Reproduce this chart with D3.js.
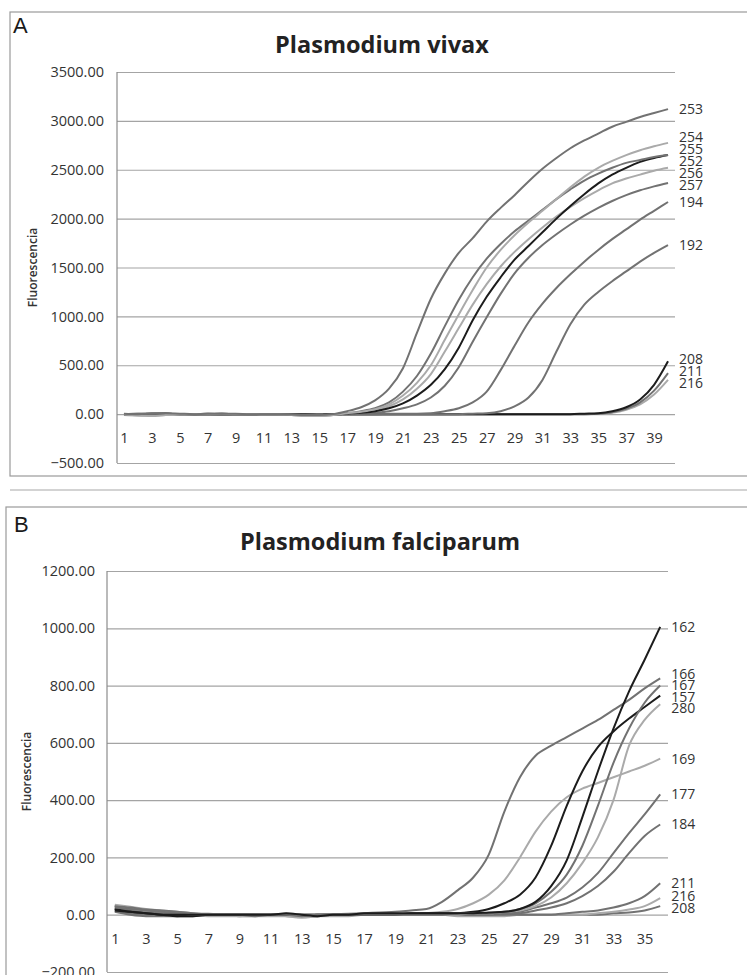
<!DOCTYPE html>
<html>
<head>
<meta charset="utf-8">
<script src="https://cdn.jsdelivr.net/npm/d3@7"></script>
<style>
  body { margin: 0; background: #fff; }
  svg { display: block; }
  text { font-family: "Open Sans", "Noto Sans", sans-serif; }
</style>
</head>
<body>
<svg id="chart" width="747" height="975"></svg>
<script>
// ---- Data : panel A (P. vivax), cycles 1..40 ----
const cyclesA = d3.range(1, 41);
const yTicksA = [-500, 0, 500, 1000, 1500, 2000, 2500, 3000, 3500];
const namesA = ["253", "254", "255", "252", "256", "257", "194", "192", "208", "211", "216"];
const toneA  = ["gray", "light", "gray", "black", "light", "gray", "gray", "gray", "black", "gray", "light"];

const vivax253 = [5,0,5,10,5,0,5,5,5,0,0,0,-5,-10,-10,0,30,70,140,260,470,830,1180,1440,1650,1800,1970,2110,2240,2380,2510,2620,2720,2800,2870,2940,2990,3040,3080,3120];
const vivax254 = [-5,-15,-20,-10,-5,0,0,5,0,0,-5,-5,-10,-20,-20,-10,10,25,50,100,190,320,500,760,1020,1270,1500,1680,1830,1960,2080,2200,2320,2430,2520,2590,2650,2700,2740,2775];
const vivax255 = [0,5,5,5,0,0,0,5,0,0,0,0,-5,-10,-10,-5,10,30,60,120,230,390,620,900,1170,1400,1590,1740,1870,1980,2090,2200,2300,2390,2460,2520,2570,2600,2630,2650];
const vivax252 = [0,0,5,5,0,0,0,0,0,0,0,0,-5,-5,-10,-5,5,15,30,60,110,190,300,460,680,960,1200,1400,1580,1720,1860,2000,2130,2250,2360,2450,2520,2580,2620,2650];
const vivax256 = [-5,-10,-15,-10,-5,0,0,0,0,0,-5,-5,-10,-15,-20,-10,5,20,40,80,150,260,410,640,880,1120,1330,1510,1660,1790,1910,2020,2120,2210,2290,2360,2410,2450,2490,2520];
const vivax257 = [0,0,5,5,0,0,5,5,0,0,0,0,-5,-5,-10,-5,0,5,15,30,60,100,170,290,480,740,990,1230,1440,1600,1730,1840,1940,2030,2110,2180,2240,2290,2330,2365];
const vivax194 = [0,5,5,5,0,0,5,0,0,0,0,0,-5,-10,-10,-5,0,0,0,5,5,5,10,30,60,120,230,450,700,940,1130,1290,1430,1560,1680,1790,1890,1990,2080,2170];
const vivax192 = [0,0,5,5,0,0,0,5,0,0,0,0,-5,-5,-10,-5,0,0,0,0,0,0,0,0,0,5,10,30,80,170,350,640,920,1120,1250,1360,1460,1560,1650,1730];
const vivax208 = [0,0,0,5,0,0,0,0,0,0,0,0,0,-5,-5,0,0,0,0,0,0,0,0,0,0,0,0,0,0,0,0,0,0,5,10,30,70,150,300,540];
const vivax211 = [-5,-5,-5,0,0,0,0,0,0,0,0,0,-5,-5,-5,0,0,0,0,0,0,0,0,0,0,0,0,0,0,0,0,0,0,0,5,20,55,120,240,420];
const vivax216 = [-10,-15,-10,-5,0,0,0,0,0,0,0,-5,-10,-15,-15,-5,0,0,0,0,0,0,0,0,0,0,0,0,0,0,0,0,0,0,5,15,45,100,200,350];
const valuesA = [vivax253, vivax254, vivax255, vivax252, vivax256, vivax257, vivax194, vivax192, vivax208, vivax211, vivax216];

// ---- Data : panel B (P. falciparum), cycles 1..36 ----
const cyclesB = d3.range(1, 37);
const yTicksB = [-200, 0, 200, 400, 600, 800, 1000, 1200];
const namesB = ["162", "166", "167", "157", "280", "169", "177", "184", "211", "216", "208"];
const toneB  = ["black", "gray", "gray", "black", "light", "light", "gray", "gray", "gray", "light", "gray"];

const falci162 = [15,10,5,0,0,0,0,0,0,0,0,5,0,-5,0,0,5,5,5,5,5,5,5,5,8,10,20,45,100,190,340,500,650,780,890,1005];
const falci166 = [30,25,18,15,10,5,3,2,2,0,0,3,0,0,2,3,5,8,10,15,20,45,85,130,210,360,480,555,590,620,650,680,715,750,790,825];
const falci167 = [25,20,15,10,5,0,0,0,0,-5,0,0,-5,0,0,0,0,0,0,0,0,0,5,5,5,10,20,40,80,140,240,380,530,650,740,800];
const falci157 = [20,10,5,0,-5,-5,0,0,0,0,0,0,0,0,0,0,0,0,0,5,5,5,5,10,20,40,70,130,240,380,500,585,640,685,725,765];
const falci280 = [35,28,20,15,10,5,0,0,-5,-5,0,-5,-10,-5,0,0,0,0,0,0,0,0,0,5,5,10,15,30,60,110,180,270,400,590,680,735];
const falci169 = [30,22,15,12,8,5,0,0,-5,0,0,0,-5,0,0,0,0,0,0,0,5,10,20,40,70,120,200,290,360,410,440,460,480,500,520,545];
const falci177 = [25,15,10,5,0,0,0,0,0,0,0,0,-5,0,0,0,0,0,0,0,0,0,0,0,5,5,10,25,40,60,95,145,215,285,350,420];
const falci184 = [20,10,5,5,0,0,0,0,0,0,0,0,0,0,0,0,0,0,0,0,0,0,0,0,0,5,5,15,25,40,65,100,150,215,275,315];
const falci211 = [15,5,0,0,-5,-5,0,0,0,0,0,0,-5,-5,0,0,0,0,0,0,0,0,0,0,0,0,0,0,0,5,10,15,25,40,65,110];
const falci216 = [30,20,15,10,5,0,-5,-5,-5,-5,-5,-5,-10,-5,-5,-5,0,0,0,0,0,0,-5,-5,-5,-5,0,0,0,0,0,5,10,18,30,58];
const falci208 = [10,0,-5,-5,-5,0,0,0,0,0,0,0,-5,-5,0,0,0,0,0,0,0,0,0,0,0,0,0,0,0,0,0,0,5,8,15,30];
const valuesB = [falci162, falci166, falci167, falci157, falci280, falci169, falci177, falci184, falci211, falci216, falci208];

const toneColor = { black: "#1c1c1c", gray: "#727272", light: "#aaaaaa" };

const svg = d3.select("#chart");

/**
 * Pushes apart labels that sit closer than gap pixels
 */
function spreadLabels(items, gap) {
    items.sort((a, b) => a.y - b.y);
    for (let it = 0; it < 300; it++) {
        let moved = false;
        for (let i = 1; i < items.length; i++) {
            const d = items[i].y - items[i - 1].y;
            if (d < gap - 0.01) {
                const s = (gap - d) / 2;
                items[i].y += s;
                items[i - 1].y -= s;
                moved = true;
            }
        }
        if (!moved) break;
    }
}

/**
 * Draws one amplification panel
 */
function drawPanel(p) {
    // Frame of the panel
    svg.append("rect")
        .attr("x", p.box[0]).attr("y", p.box[1])
        .attr("width", p.box[2]).attr("height", p.box[3])
        .attr("fill", "none").attr("stroke", "#9a9a9a").attr("stroke-width", 1.2);

    svg.append("text")
        .attr("x", p.letterX).attr("y", p.letterY)
        .style("font-family", "'Liberation Sans', Arial, sans-serif")
        .style("font-size", "22px").attr("fill", "#1a1a1a")
        .text(p.letter);

    svg.append("text")
        .attr("x", p.titleX).attr("y", p.titleY)
        .attr("text-anchor", "middle")
        .style("font-size", "23.5px").style("font-weight", 700).attr("fill", "#222")
        .text(p.title);

    const x = d3.scalePoint().domain(p.cycles).range([p.left, p.right]).padding(0.5);
    const y = d3.scaleLinear().domain([p.yTicks[0], p.yTicks[p.yTicks.length - 1]]).range([p.bottom, p.top]);

    // Horizontal gridlines + value labels
    const yAxis = svg.append("g")
        .attr("transform", `translate(${p.left},0)`)
        .call(d3.axisLeft(y).tickValues(p.yTicks).tickFormat(d3.format(".2f"))
            .tickSizeInner(-(p.right - p.left)).tickSizeOuter(0).tickPadding(p.tickPad));
    yAxis.select(".domain").remove();
    yAxis.selectAll("line").attr("stroke", "#a4a4a4").attr("stroke-width", 1.2);
    yAxis.selectAll("text").attr("fill", "#333").style("font-size", "14.5px");

    // Vertical axis line
    svg.append("line")
        .attr("x1", p.left).attr("x2", p.left)
        .attr("y1", p.top).attr("y2", p.bottom)
        .attr("stroke", "#8c8c8c").attr("stroke-width", 1.2);

    // Cycle labels
    const xAxis = svg.append("g")
        .attr("transform", `translate(0,${y(0)})`)
        .call(d3.axisBottom(x).tickValues(p.cycles.filter(c => c % 2 === 1)).tickSize(0).tickPadding(19));
    xAxis.select(".domain").remove();
    xAxis.selectAll("text").attr("fill", "#333").style("font-size", "14.5px");

    svg.append("text")
        .attr("transform", `translate(${p.yLabelX},${(p.top + p.bottom) / 2}) rotate(-90)`)
        .attr("text-anchor", "middle")
        .style("font-size", "12px").style("font-weight", 600).attr("fill", "#333")
        .text("Fluorescencia");

    // Curves
    const line = d3.line()
        .x((d, i) => x(p.cycles[i]))
        .y(d => y(d))
        .curve(d3.curveMonotoneX);

    const order = d3.range(p.values.length).reverse();
    order.forEach(i => {
        svg.append("path")
            .datum(p.values[i])
            .attr("d", line)
            .attr("fill", "none")
            .attr("stroke", toneColor[p.tones[i]])
            .attr("stroke-width", 2)
            .attr("stroke-linejoin", "round");
    });

    // End labels
    const last = p.cycles[p.cycles.length - 1];
    const labels = p.names.map((n, i) => ({ name: n, y: y(p.values[i][p.values[i].length - 1]) }));
    spreadLabels(labels, p.labelGap);
    svg.append("g").selectAll("text")
        .data(labels)
        .enter().append("text")
        .attr("x", x(last) + 11)
        .attr("y", d => d.y)
        .attr("dy", "0.35em")
        .style("font-size", "14px").attr("fill", "#333")
        .text(d => d.name);
}

drawPanel({
    box: [10, 12, 760, 464], letter: "A", letterX: 13, letterY: 33,
    title: "Plasmodium vivax", titleX: 382, titleY: 53,
    left: 117, right: 675, top: 72, bottom: 463, tickPad: 13, yLabelX: 37,
    cycles: cyclesA, yTicks: yTicksA, names: namesA, tones: toneA, values: valuesA, labelGap: 12
});

svg.append("line")
    .attr("x1", 10).attr("x2", 747).attr("y1", 490).attr("y2", 490)
    .attr("stroke", "#a8a8a8").attr("stroke-width", 1.2);

drawPanel({
    box: [6, 507, 760, 500], letter: "B", letterX: 14, letterY: 532,
    title: "Plasmodium falciparum", titleX: 380, titleY: 550,
    left: 107, right: 668, top: 571, bottom: 972, tickPad: 12, yLabelX: 31,
    cycles: cyclesB, yTicks: yTicksB, names: namesB, tones: toneB, values: valuesB, labelGap: 11.5
});
</script>
</body>
</html>
